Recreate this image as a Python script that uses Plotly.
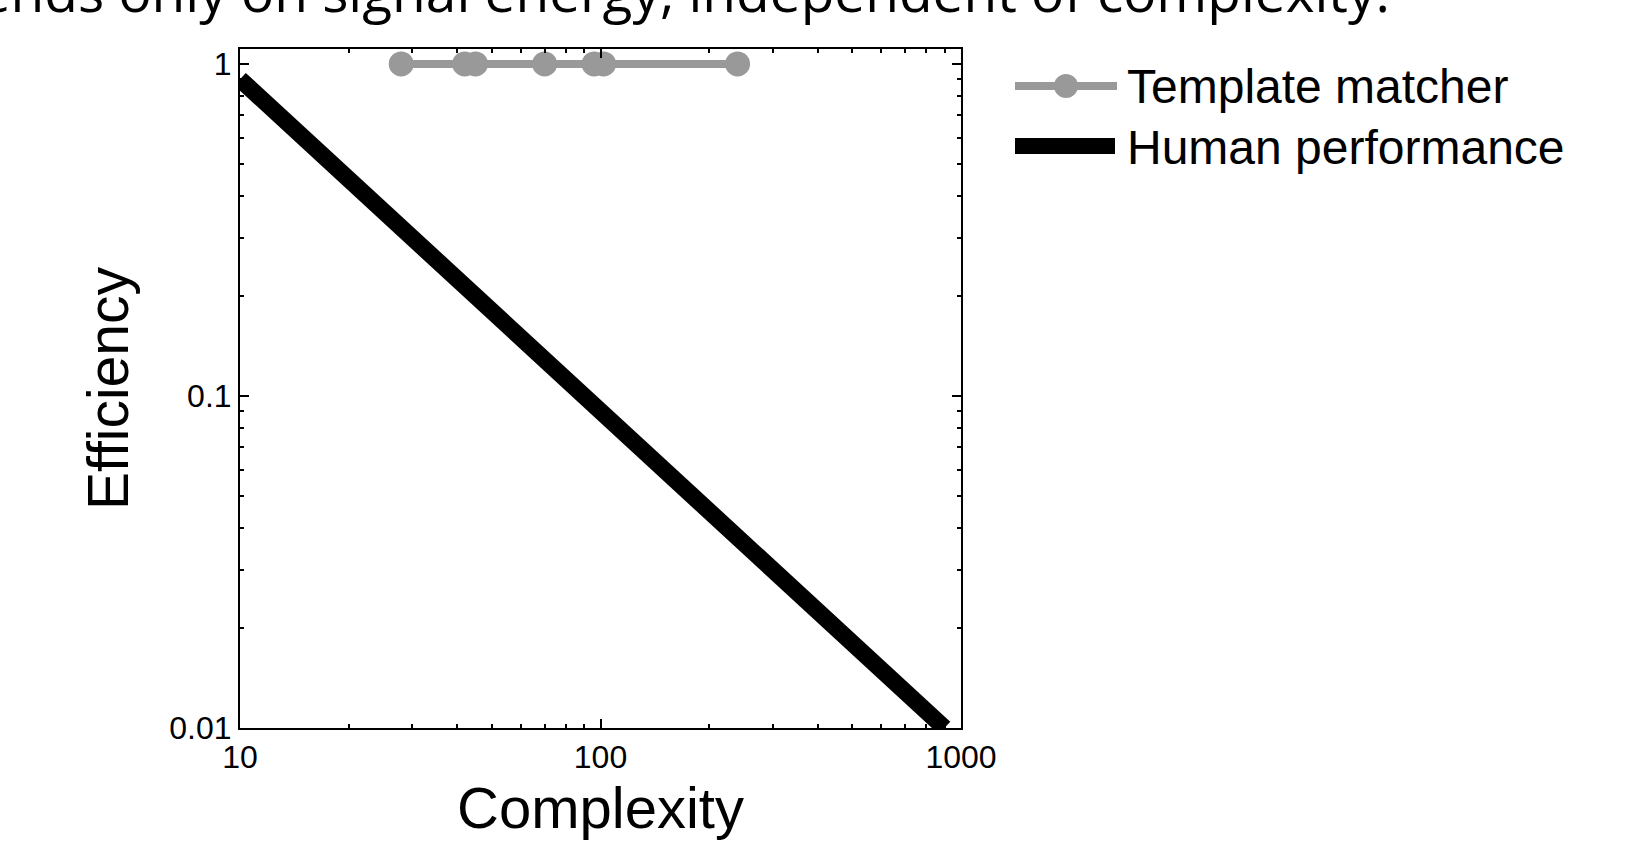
import plotly.graph_objects as go

# Template matcher: efficiency stays at 1 across complexities
template_complexity = [28, 42, 45, 70, 96, 102, 240]
template_efficiency = [1, 1, 1, 1, 1, 1, 1]

# Human performance: efficiency falls inversely with complexity
human_complexity = [10, 900]
human_efficiency = [0.9, 0.01]

x_tick_vals = [10, 100, 1000]
x_tick_text = ["10", "100", "1000"]
y_tick_vals = [0.01, 0.1, 1]
y_tick_text = ["0.01", "0.1", "1"]

x_minor_vals = [d * m for d in (10, 100) for m in range(2, 10)]
y_minor_vals = [d * m for d in (0.01, 0.1) for m in range(2, 10)]

GRAY = "#999999"
FONT = "Liberation Sans, Arial, sans-serif"

W, H = 1640, 848
L, R, T, B = 240, 961, 49, 728


def px(x):
    return (x - L) / (R - L)


def py(y):
    return (B - y) / (B - T)


fig = go.Figure()

fig.add_trace(go.Scatter(
    x=human_complexity, y=human_efficiency, mode="lines",
    line=dict(color="black", width=17), showlegend=False,
))
fig.add_trace(go.Scatter(
    x=template_complexity, y=template_efficiency, mode="lines+markers",
    line=dict(color=GRAY, width=8),
    marker=dict(color=GRAY, size=25, line=dict(width=0)),
    showlegend=False, cliponaxis=False,
))

axis_common = dict(
    type="log", showgrid=False, zeroline=False,
    showline=True, linecolor="black", linewidth=2, mirror="allticks",
    ticks="inside", ticklen=9, tickwidth=2, tickcolor="black",
    tickfont=dict(family=FONT, size=32, color="black"),
)

fig.update_xaxes(
    **axis_common, range=[1, 3],
    tickvals=x_tick_vals, ticktext=x_tick_text,
    minor=dict(tickvals=x_minor_vals, ticks="inside", ticklen=4, tickwidth=1.5,
               tickcolor="black", showgrid=False),
    title=dict(text="Complexity", font=dict(family=FONT, size=58, color="black"), standoff=8),
)
fig.update_yaxes(
    **axis_common, range=[-2, 0.045],
    tickvals=y_tick_vals, ticktext=y_tick_text,
    minor=dict(tickvals=y_minor_vals, ticks="inside", ticklen=4, tickwidth=1.5,
               tickcolor="black", showgrid=False),
    title=dict(text="Efficiency", font=dict(family=FONT, size=57, color="black"), standoff=22),
)

# Legend drawn by hand so the symbols can be long
shapes = [
    dict(type="line", xref="paper", yref="paper", x0=px(1015), x1=px(1117), y0=py(86), y1=py(86),
         line=dict(color=GRAY, width=8)),
    dict(type="circle", xref="paper", yref="paper", x0=px(1054), x1=px(1078), y0=py(98), y1=py(74),
         fillcolor=GRAY, line=dict(width=0)),
    dict(type="rect", xref="paper", yref="paper", x0=px(1015), x1=px(1115), y0=py(154), y1=py(138),
         fillcolor="black", line=dict(width=0)),
]
annotations = [
    dict(text="Template matcher", xref="paper", yref="paper", x=px(1125), y=py(86),
         xanchor="left", yanchor="middle", showarrow=False,
         font=dict(family=FONT, size=48, color="black")),
    dict(text="Human performance", xref="paper", yref="paper", x=px(1125), y=py(147),
         xanchor="left", yanchor="middle", showarrow=False,
         font=dict(family=FONT, size=48, color="black")),
    # Caption line running above the plot
    dict(text="Template matcher efficiency depends only on signal energy, independent of complexity.",
         xref="paper", yref="paper", x=px(1392), y=py(30),
         xanchor="right", yanchor="bottom", showarrow=False,
         font=dict(family="Open Sans, sans-serif", size=55, color="black")),
]

fig.update_layout(
    width=W, height=H,
    margin=dict(l=L, r=W - R, t=T, b=H - B, pad=0),
    paper_bgcolor="white", plot_bgcolor="white",
    shapes=shapes, annotations=annotations,
    showlegend=False,
)

fig.write_html("out.html")
